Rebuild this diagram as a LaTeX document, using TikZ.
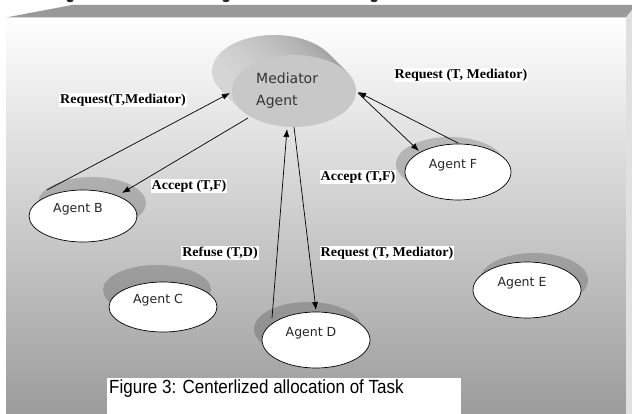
\documentclass[tikz,border=0pt]{standalone}
\usepackage{fontspec}
\setmainfont{Liberation Serif}
\newfontfamily\agentfont{DejaVu Sans}
\newfontfamily\capfont{Liberation Sans}
\usetikzlibrary{shapes.geometric,arrows.meta,calc}
\definecolor{bandgray}{RGB}{153,153,153}
\definecolor{sidegray}{RGB}{224,224,224}
\definecolor{bgbottom}{RGB}{156,156,156}
\definecolor{medfront}{RGB}{200,200,200}
\definecolor{medlight}{RGB}{214,214,214}
\definecolor{meddark}{RGB}{158,158,158}

\begin{document}
\begin{tikzpicture}[x=1pt,y=-1pt,
  agent/.style={ellipse,draw=black,line width=0.7pt,fill=white,
    minimum width=108pt,minimum height=54pt,inner sep=0pt},
  agentshadow/.style={ellipse,fill=black,fill opacity=0.18,
    minimum width=108pt,minimum height=54pt,inner sep=0pt},
  agenttext/.style={font=\agentfont\fontsize{12.5}{14}\selectfont,
    text=black!85,xshift=-5pt,yshift=7pt},
  msg/.style={font=\bfseries\fontsize{13.5}{15}\selectfont,
    fill=white,inner sep=1pt,xscale=1.04},
  link/.style={line width=0.7pt,-{Latex[length=8pt,width=6pt]}},
]
\useasboundingbox (0,0) rectangle (632,414);

% descenders of the heading line above the frame
\foreach \gx in {70,226,374}
  \fill[black!85] (\gx-3.5,0) arc[start angle=180,end angle=360,x radius=3.5pt,y radius=2.2pt] -- cycle;

% framed panel: top face, right face and shaded front
\shade[top color=white,bottom color=bgbottom] (6,17.5) rectangle (626,414);
\fill[bandgray] (6,17.5) -- (72,5) -- (632,5) -- (632,10) -- (626,17.5) -- cycle;
\fill[sidegray] (626,17.5) -- (632,10) -- (632,414) -- (626,414) -- cycle;

% mediator: extruded grey disc
\foreach \k in {20,19,...,1}
  \shade[left color=medlight,right color=meddark]
    (294-\k,91-\k) ellipse[x radius=62pt,y radius=36pt];
\node[ellipse,fill=medfront,minimum width=124pt,minimum height=72pt,inner sep=0pt]
  (M) at (294,91) {};
\node[font=\agentfont\fontsize{14}{22}\selectfont,text=black!80,align=left,anchor=west,inner sep=0pt]
  (Mtxt) at (256,90.5) {Mediator\\Agent};

% agent shadows
\node[agentshadow,minimum height=52pt] (Bs) at (92,203) {};
\node[agentshadow,minimum height=50pt] (Cs) at (157,290) {};
\node[agentshadow] (Ds) at (308,329) {};
\node[agentshadow] (Es) at (534,280) {};
\node[agentshadow] (Fs) at (450,164) {};

% agents
\node[agent,minimum height=52pt,label={[agenttext]center:Agent B}] (B) at (83,216) {};
\node[agent,minimum height=50pt,label={[agenttext]center:Agent C}] (C) at (163,307) {};
\node[agent,minimum height=56pt,label={[agenttext]center:Agent D}] (D) at (316,340) {};
\node[agent,minimum height=56pt,label={[agenttext]center:Agent E}] (E) at (527,290) {};
\node[agent,minimum width=106pt,minimum height=56pt,label={[agenttext]center:Agent F}] (F) at (458,172) {};

% messages
\draw[link] ($(B.center)+(-36,-26)$) -- ($(M.center)+(-64,2)$);
\draw[link] ($(M.center)+(-46,27)$) -- ($(B.center)+(39,-23)$);
\draw[link] ($(F.center)+(0,-29)$) -- ($(M.center)+(64,1)$);
\draw[link] ($(M.center)+(64,2)$) -- ($(F.center)+(-39,-21)$);
\draw[link] ($(D.center)+(-44,-22)$) -- ($(M.center)+(-7,38)$);
\draw[link] ($(M.center)+(0,36)$) -- ($(D.center)+(0,-30)$);

% message labels
\node[msg] (l1) at (123,100) {Request(T,Mediator)};
\node[msg] (l2) at (189,186) {Accept (T,F)};
\node[msg] (l3) at (461,75) {Request (T, Mediator)};
\node[msg] (l4) at (358,177) {Accept (T,F)};
\node[msg] (l5) at (220,253) {Refuse (T,D)};
\node[msg] (l6) at (387,253) {Request (T, Mediator)};

% caption
\fill[white] (107,378) rectangle (461,414);
\node[font=\capfont\fontsize{17}{20}\selectfont,yscale=1.12,anchor=west,inner sep=0pt]
  (cap) at (109,389) {Figure 3: Centerlized allocation of Task};
\end{tikzpicture}
\end{document}
